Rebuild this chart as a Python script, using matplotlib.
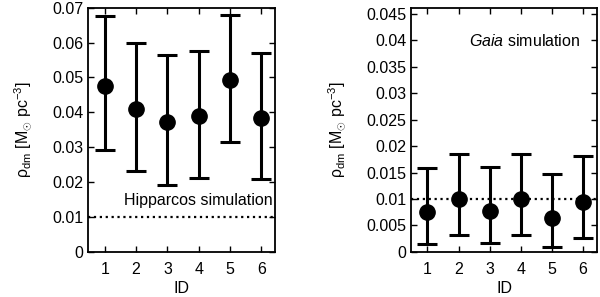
import matplotlib
matplotlib.use("Agg")
import matplotlib.pyplot as plt

plt.rcParams['font.family'] = ['Liberation Sans', 'DejaVu Sans']
plt.rcParams['mathtext.fontset'] = 'custom'
plt.rcParams['mathtext.rm'] = 'Liberation Sans'
plt.rcParams['mathtext.it'] = 'Liberation Sans:italic'
plt.rcParams['font.size'] = 11.5

# data
ids = [1, 2, 3, 4, 5, 6]

hip_val = [0.0476, 0.0409, 0.0373, 0.0389, 0.0492, 0.0384]
hip_hi = [0.0675, 0.0599, 0.0564, 0.0576, 0.0678, 0.0570]
hip_lo = [0.0291, 0.0231, 0.0193, 0.0212, 0.0315, 0.0210]

gaia_val = [0.0076, 0.0100, 0.0077, 0.0100, 0.0065, 0.0095]
gaia_hi = [0.0159, 0.0186, 0.0160, 0.0186, 0.0147, 0.0182]
gaia_lo = [0.0014, 0.0031, 0.0016, 0.0031, 0.0010, 0.0026]

true_rho = 0.01

ylabel = '\u03c1$_{\\rm dm}$ [M$_{\\odot}$ pc$^{-3}$]'

fig = plt.figure(figsize=(6, 2.97), dpi=100)
ax1 = fig.add_axes([0.147, 0.152, 0.312, 0.822])
ax2 = fig.add_axes([0.685, 0.152, 0.310, 0.822])


def panel(ax, val, hi, lo, ymax, yticks, yticklabels):
    yerr = [[v - l for v, l in zip(val, lo)], [h - v for v, h in zip(val, hi)]]
    ax.errorbar(ids, val, yerr=yerr, fmt='o', color='black', ms=11,
                elinewidth=2.2, capsize=7, capthick=2.2)
    ax.axhline(true_rho, color='black', ls=':', lw=1.6)
    ax.set_xlim(0.47, 6.45)
    ax.set_ylim(0, ymax)
    ax.set_xticks(ids)
    ax.set_yticks(yticks)
    ax.set_yticklabels(yticklabels)
    ax.tick_params(direction='in', top=True, right=True, length=4, width=1)
    ax.tick_params(axis='x', pad=7)
    for s in ax.spines.values():
        s.set_linewidth(1.3)
    ax.set_xlabel('ID', labelpad=3)
    ax.set_ylabel(ylabel, labelpad=13)


panel(ax1, hip_val, hip_hi, hip_lo, 0.07,
      [0, 0.01, 0.02, 0.03, 0.04, 0.05, 0.06, 0.07],
      ['0', '0.01', '0.02', '0.03', '0.04', '0.05', '0.06', '0.07'])
ax1.text(6.37, 0.0146, 'Hipparcos simulation', ha='right', va='center')

panel(ax2, gaia_val, gaia_hi, gaia_lo, 0.0462,
      [0, 0.005, 0.01, 0.015, 0.02, 0.025, 0.03, 0.035, 0.04, 0.045],
      ['0', '0.005', '0.01', '0.015', '0.02', '0.025', '0.03', '0.035', '0.04', '0.045'])
ax2.text(5.92, 0.0399, r'$\it{Gaia}$ simulation', ha='right', va='center')

fig.savefig('out.png', dpi=100)
